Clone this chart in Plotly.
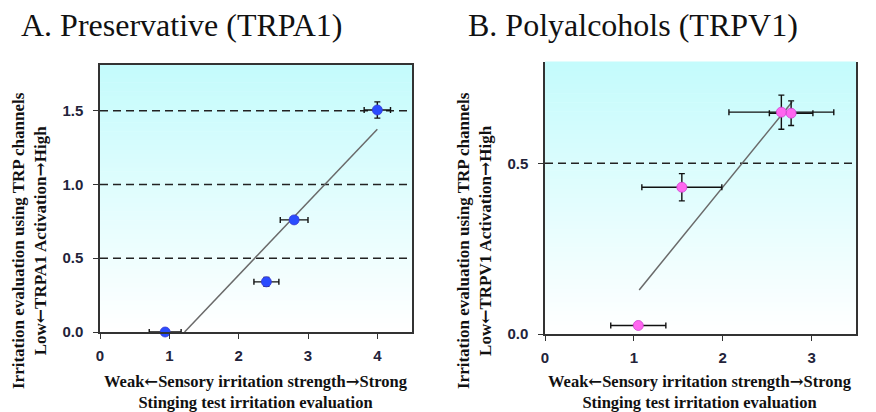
import plotly.graph_objects as go

# ---------- data ----------
# Panel A: Preservative (TRPA1)
a_x = [0.94, 2.40, 2.80, 4.00]
a_y = [0.00, 0.34, 0.76, 1.505]
a_xerr = [0.23, 0.18, 0.20, 0.19]
a_yerr = [0.0, 0.03, 0.02, 0.055]
a_fit_x = [1.22, 4.00]
a_fit_y = [0.00, 1.375]
a_ref_lines = [0.5, 1.0, 1.5]
a_yticks = [0.0, 0.5, 1.0, 1.5]
a_xticks = [0, 1, 2, 3, 4]

# Panel B: Polyalcohols (TRPV1)
b_x = [1.05, 1.54, 2.66, 2.77]
b_y = [0.025, 0.43, 0.65, 0.647]
b_xerr = [0.31, 0.45, 0.59, 0.245]
b_yerr = [0.0, 0.04, 0.05, 0.036]
b_fit_x = [1.06, 2.78]
b_fit_y = [0.129, 0.68]
b_ref_lines = [0.5]
b_yticks = [0.0, 0.5]
b_xticks = [0, 1, 2, 3]

ARW_L = '<span style="font-family:DejaVu Serif">\u2190</span>'
ARW_R = '<span style="font-family:DejaVu Serif">\u2192</span>'
title_a = "A. Preservative (TRPA1)"
title_b = "B. Polyalcohols (TRPV1)"
ytitle_a = ["Irritation evaluation using TRP channels",
            "Low" + ARW_L + "TRPA1 Activation" + ARW_R + "High"]
ytitle_b = ["Irritation evaluation using TRP channels",
            "Low" + ARW_L + "TRPV1 Activation" + ARW_R + "High"]
xtitle = ["Weak" + ARW_L + "Sensory irritation strength" + ARW_R + "Strong",
          "Stinging test irritation evaluation"]

W, H = 876, 412
OFF = 8  # page body margin offset


def px(X):
    return (X - OFF) / W


def py(Y):
    return (H - (Y - OFF)) / H


dom_a_x = [px(100), px(412)]
dom_a_y = [py(332), py(65)]
dom_b_x = [px(545), px(856)]
dom_b_y = [py(334), py(62)]

fig = go.Figure()

err_style = dict(color="#111111", thickness=1.4, width=3)

# fit lines
fig.add_trace(go.Scatter(x=a_fit_x, y=a_fit_y, mode="lines",
                         line=dict(color="#6a6a6a", width=1.5),
                         xaxis="x", yaxis="y", showlegend=False, hoverinfo="skip"))
fig.add_trace(go.Scatter(x=b_fit_x, y=b_fit_y, mode="lines",
                         line=dict(color="#6a6a6a", width=1.5),
                         xaxis="x2", yaxis="y2", showlegend=False, hoverinfo="skip"))

# points
fig.add_trace(go.Scatter(x=a_x, y=a_y, mode="markers",
                         marker=dict(color="#2a4cff", size=10, line=dict(color="#3a3ad0", width=0.8)),
                         error_x=dict(type="data", array=a_xerr, **err_style),
                         error_y=dict(type="data", array=a_yerr, **err_style),
                         xaxis="x", yaxis="y", showlegend=False, cliponaxis=False))
fig.add_trace(go.Scatter(x=b_x, y=b_y, mode="markers",
                         marker=dict(color="#ff66f0", size=10, line=dict(color="#d040d0", width=0.8)),
                         error_x=dict(type="data", array=b_xerr, **err_style),
                         error_y=dict(type="data", array=b_yerr, **err_style),
                         xaxis="x2", yaxis="y2", showlegend=False, cliponaxis=False))

# gradient backgrounds (cyan at top to white at bottom)
top = (196, 251, 252)
bot = (255, 255, 255)
n = 60
shapes = []
for xr, yr in (("x domain", "y domain"), ("x2 domain", "y2 domain")):
    for i in range(n):
        t = (i + 0.5) / n
        c = tuple(int(round(bot[k] + (top[k] - bot[k]) * t)) for k in range(3))
        shapes.append(dict(type="rect", xref=xr, yref=yr, x0=0, x1=1,
                           y0=i / n, y1=(i + 1) / n + 0.002,
                           fillcolor="rgb(%d,%d,%d)" % c, line=dict(width=0),
                           layer="below"))
for v in a_ref_lines:
    shapes.append(dict(type="line", xref="x domain", yref="y", x0=0, x1=1, y0=v, y1=v,
                       line=dict(color="#222222", width=1.5, dash="8px,5px"), layer="below"))
for v in b_ref_lines:
    shapes.append(dict(type="line", xref="x2 domain", yref="y2", x0=0, x1=1, y0=v, y1=v,
                       line=dict(color="#222222", width=1.5, dash="8px,5px"), layer="below"))

tickfont = dict(family="Liberation Sans Narrow, Arial Narrow, Liberation Sans, Arial",
                size=15, color="#23233a", weight="bold")
axline = dict(showline=True, linecolor="#333333", linewidth=1.5, ticks="outside",
              ticklen=5, tickwidth=1.2, tickcolor="#333333", showgrid=False,
              zeroline=False, tickfont=tickfont, automargin=False)

fig.update_layout(
    template="none",
    width=W, height=H, margin=dict(l=0, r=0, t=0, b=0, autoexpand=False),
    paper_bgcolor="white", plot_bgcolor="white",
    shapes=shapes,
    xaxis=dict(domain=dom_a_x, range=[0, 4.5], tickvals=a_xticks, anchor="y",
               mirror=True, ticklabelstandoff=4, **axline),
    yaxis=dict(domain=dom_a_y, range=[0, 1.81], tickvals=a_yticks, tickformat=".1f",
               anchor="x", mirror=True, ticklabelstandoff=7, **axline),
    xaxis2=dict(domain=dom_b_x, range=[0, 3.5], tickvals=b_xticks, anchor="y2",
                mirror=False, ticklabelstandoff=4, **axline),
    yaxis2=dict(domain=dom_b_y, range=[0, 0.797], tickvals=b_yticks, tickformat=".1f",
                anchor="x2", mirror=True, ticklabelstandoff=7, **axline),
)

serif = "Liberation Serif, Times New Roman, serif"
ann = []
ann.append(dict(text=title_a, x=px(19), y=py(25), xref="paper", yref="paper",
                xanchor="left", yanchor="middle", showarrow=False,
                font=dict(family=serif, size=32, color="#111111")))
ann.append(dict(text=title_b, x=px(466), y=py(25), xref="paper", yref="paper",
                xanchor="left", yanchor="middle", showarrow=False,
                font=dict(family=serif, size=32, color="#111111")))


def bold_lines(lines):
    return "<br>".join("<b>" + s + "</b>" for s in lines)


for xc, txt in ((29, ytitle_a), (474, ytitle_b)):
    ann.append(dict(text=bold_lines(txt),
                    x=px(xc), y=py(241), xref="paper", yref="paper",
                    xanchor="center", yanchor="middle", showarrow=False, textangle=-90,
                    font=dict(family=serif, size=17, color="#111111")))
for xc in (256, 700):
    ann.append(dict(text=bold_lines(xtitle),
                    x=px(xc), y=py(392), xref="paper", yref="paper",
                    xanchor="center", yanchor="middle", showarrow=False,
                    font=dict(family=serif, size=16.5, color="#111111")))
fig.update_layout(annotations=ann)

fig.write_html("out.html")
